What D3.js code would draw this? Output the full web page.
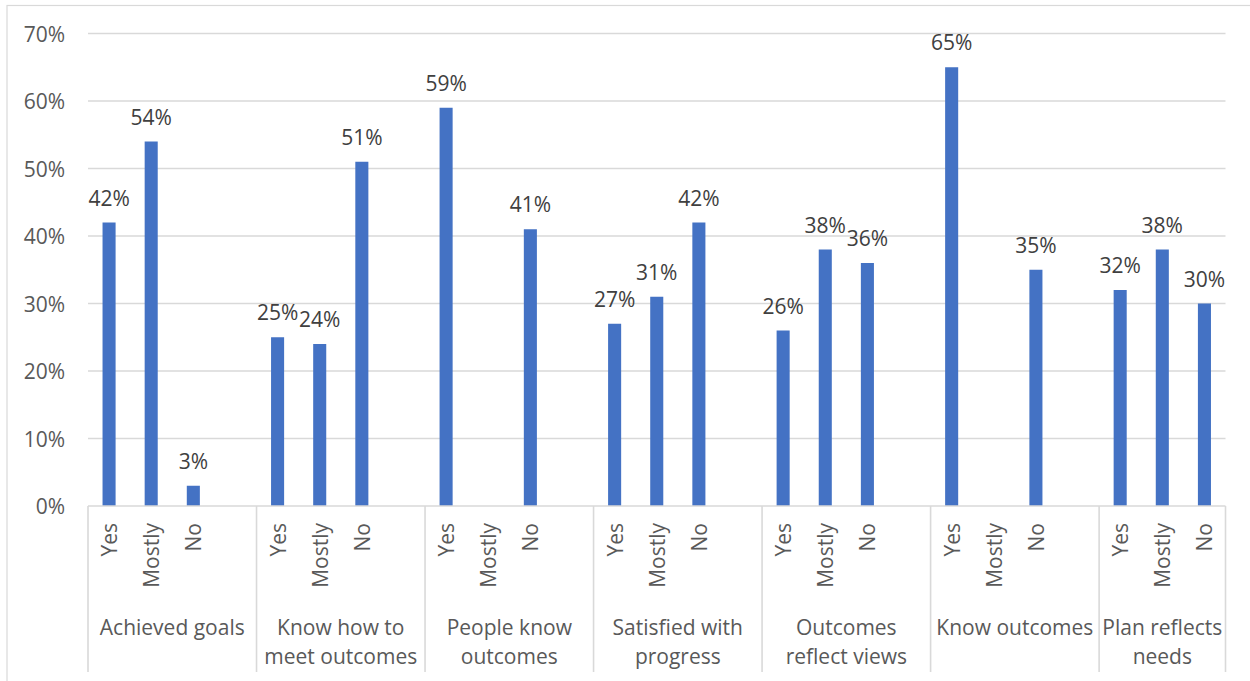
<!DOCTYPE html>
<html>
<head>
<meta charset="utf-8">
<script src="https://cdn.jsdelivr.net/npm/d3@7"></script>
<style>
  html, body { margin: 0; padding: 0; background: #ffffff; }
  svg { display: block; }
  text { font-family: "Open Sans", "Noto Sans", sans-serif; }
</style>
</head>
<body>
<svg id="chart" width="1250" height="681"></svg>
<script>
// Survey questions (category groups), each split into answer options
const groupLabels = [
  ["Achieved goals"],
  ["Know how to", "meet outcomes"],
  ["People know", "outcomes"],
  ["Satisfied with", "progress"],
  ["Outcomes", "reflect views"],
  ["Know outcomes"],
  ["Plan reflects", "needs"]
];
const answers = ["Yes", "Mostly", "No"];

// Percentage of respondents per answer (null = no bar)
const yesValues    = [42, 25, 59, 27, 26, 65, 32];
const mostlyValues = [54, 24, null, 31, 38, null, 38];
const noValues     = [3, 51, 41, 42, 36, 35, 30];

const yTicks = [0, 10, 20, 30, 40, 50, 60, 70];

// Build the slot list: three answers per group plus a blank spacer slot
// between groups (none after the last group)
const seriesByAnswer = { Yes: yesValues, Mostly: mostlyValues, No: noValues };
const slots = [];
groupLabels.forEach((g, gi) => {
  answers.forEach(a => {
    slots.push({ id: gi + "-" + a, group: gi, answer: a, value: seriesByAnswer[a][gi] });
  });
  if (gi < groupLabels.length - 1) slots.push({ id: gi + "-gap", group: gi, answer: "", value: null });
});

const svg = d3.select("#chart");
const plot = { left: 88, right: 1225.5, top: 33.5, bottom: 506 };
const axisBottom = 672;
const fontSize = 21;

const x = d3.scaleBand()
  .domain(slots.map(d => d.id))
  .range([plot.left, plot.right])
  .padding(0);

const y = d3.scaleLinear()
  .domain([0, 70])
  .range([plot.bottom, plot.top]);

const grey = "#d9d9d9";

// Chart frame
svg.append("rect")
  .attr("x", 7).attr("y", 5.5)
  .attr("width", 1300).attr("height", 700)
  .attr("fill", "none")
  .attr("stroke", grey)
  .attr("stroke-width", 1.2);

// Horizontal gridlines
svg.append("g")
  .selectAll("line")
  .data(yTicks.filter(t => t > 0))
  .join("line")
  .attr("x1", plot.left).attr("x2", plot.right)
  .attr("y1", d => y(d)).attr("y2", d => y(d))
  .attr("stroke", grey)
  .attr("stroke-width", 1.6);

// Y axis labels
svg.append("g")
  .selectAll("text")
  .data(yTicks)
  .join("text")
  .attr("x", 65)
  .attr("y", d => y(d))
  .attr("text-anchor", "end")
  .attr("dominant-baseline", "central")
  .attr("fill", "#595959")
  .attr("font-size", fontSize)
  .text(d => d + "%");

// Bars
const barW = x.bandwidth() * 0.31;
const barData = slots.filter(d => d.value != null);
svg.append("g")
  .selectAll("rect")
  .data(barData)
  .join("rect")
  .attr("x", d => x(d.id) + (x.bandwidth() - barW) / 2)
  .attr("y", d => y(d.value))
  .attr("width", barW)
  .attr("height", d => y(0) - y(d.value))
  .attr("fill", "#4472c4");

// Value labels
svg.append("g")
  .selectAll("text")
  .data(barData)
  .join("text")
  .attr("x", d => x(d.id) + x.bandwidth() / 2)
  .attr("y", d => y(d.value) - 17)
  .attr("text-anchor", "middle")
  .attr("fill", "#404040")
  .attr("font-size", fontSize)
  .text(d => d.value + "%");

// Category axis baseline
svg.append("line")
  .attr("x1", plot.left).attr("x2", plot.right)
  .attr("y1", plot.bottom).attr("y2", plot.bottom)
  .attr("stroke", grey)
  .attr("stroke-width", 1.6);

// Group separators (left edge of each group, plus the right end)
const groupEdges = groupLabels.map((g, gi) => x(gi + "-Yes"));
groupEdges.push(plot.right);
svg.append("g")
  .selectAll("line")
  .data(groupEdges)
  .join("line")
  .attr("x1", d => d).attr("x2", d => d)
  .attr("y1", plot.bottom).attr("y2", axisBottom)
  .attr("stroke", grey)
  .attr("stroke-width", 1.6);

// Rotated answer labels
svg.append("g")
  .selectAll("text")
  .data(slots.filter(d => d.answer))
  .join("text")
  .attr("transform", d => `translate(${x(d.id) + x.bandwidth() / 2},${plot.bottom + 17}) rotate(-90)`)
  .attr("text-anchor", "end")
  .attr("dominant-baseline", "central")
  .attr("fill", "#595959")
  .attr("font-size", fontSize)
  .text(d => d.answer);

// Group labels
const groupG = svg.append("g")
  .selectAll("text")
  .data(groupLabels)
  .join("text")
  .attr("x", (d, i) => (groupEdges[i] + groupEdges[i + 1]) / 2)
  .attr("y", 635)
  .attr("text-anchor", "middle")
  .attr("fill", "#595959")
  .attr("font-size", fontSize);
groupG.selectAll("tspan")
  .data(d => d)
  .join("tspan")
  .attr("x", function () { return d3.select(this.parentNode).attr("x"); })
  .attr("dy", (d, i) => i === 0 ? 0 : 28.5)
  .text(d => d);
</script>
</body>
</html>
